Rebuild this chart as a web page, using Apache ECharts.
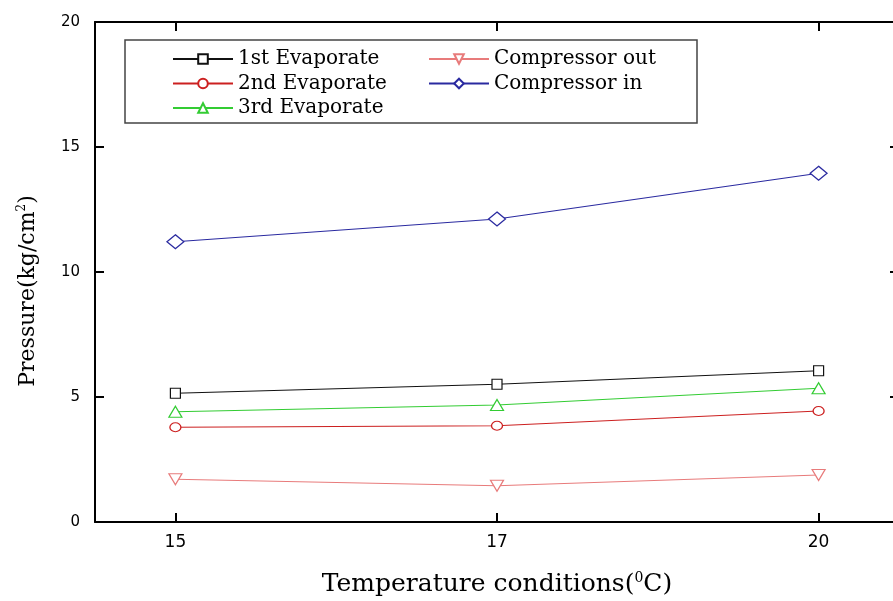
<!DOCTYPE html>
<html>
<head>
<meta charset="utf-8">
<script src="https://cdn.jsdelivr.net/npm/echarts@6/dist/echarts.min.js"></script>
<style>html,body{margin:0;padding:0;background:#fff;}#c{width:893px;height:601px;}</style>
</head>
<body>
<div id="c"></div>
<script>
var categories = ['15', '17', '20'];
var firstEvap = [5.15, 5.51, 6.05];
var secondEvap = [3.79, 3.85, 4.44];
var thirdEvap = [4.41, 4.68, 5.35];
var compOut = [1.71, 1.45, 1.88];
var compIn = [11.21, 12.12, 13.95];
var yTicks = [0, 5, 10, 15, 20];

function pts(arr) { return arr.map(function (v, i) { return [i, v]; }); }
var catIdx = categories.map(function (c, i) { return i; });

function mk(name, data, color, symbol, size, rotate) {
  return {
    name: name, type: 'line', data: pts(data), symbol: symbol, symbolSize: size,
    symbolRotate: rotate || 0, showAllSymbol: true,
    lineStyle: { color: color, width: 1.2 },
    itemStyle: { color: '#fff', borderColor: color, borderWidth: 1.2 },
    emphasis: { disabled: true }, animation: false, z: 3
  };
}

var serif = '"DejaVu Serif", "Liberation Serif", serif';
var sans = '"DejaVu Sans", sans-serif';
var axisLine = { show: true, onZero: false, lineStyle: { color: '#000', width: 2 } };
var tick = { show: true, inside: true, length: 9, lineStyle: { color: '#000', width: 2 } };
var legendText = { fontFamily: serif, fontSize: 20, color: '#000', lineHeight: 24 };

var chart = echarts.init(document.getElementById('c'), null, { renderer: 'canvas' });
chart.setOption({
  backgroundColor: '#fff',
  animation: false,
  grid: { left: 95, top: 22, right: -6, bottom: 79, containLabel: false, outerBoundsMode: 'none' },
  legend: [{
    data: ['1st Evaporate', '2nd Evaporate', '3rd Evaporate'],
    orient: 'vertical', left: 167, top: 42, itemWidth: 60, itemHeight: 12, itemGap: 0.5,
    textStyle: legendText, selectedMode: false
  }, {
    data: ['Compressor out', 'Compressor in'],
    orient: 'vertical', left: 423, top: 42, itemWidth: 60, itemHeight: 12, itemGap: 0.5,
    textStyle: legendText, selectedMode: false
  }],
  graphic: [{
    type: 'rect', shape: { x: 125, y: 40, width: 572, height: 83 },
    style: { fill: 'none', stroke: '#444', lineWidth: 1.5 }, z: 1
  }],
  xAxis: [{
    type: 'value', position: 'bottom', min: -0.25, max: 2.25,
    axisLine: axisLine, splitLine: { show: false },
    axisTick: Object.assign({ customValues: catIdx }, tick),
    axisLabel: { customValues: catIdx, margin: 12, fontFamily: sans, fontSize: 17, color: '#000',
      formatter: function (v) { return categories[Math.round(v)]; } },
    name: 'Temperature conditions({sup|0}C)', nameLocation: 'middle', nameGap: 49,
    nameTextStyle: { fontFamily: serif, fontSize: 25, color: '#000',
      rich: { sup: { fontFamily: serif, fontSize: 14, color: '#000', padding: [0, 0, 13, 0] } } }
  }, {
    type: 'value', position: 'top', min: -0.25, max: 2.25,
    axisLine: axisLine, splitLine: { show: false },
    axisTick: Object.assign({ customValues: catIdx }, tick),
    axisLabel: { show: false }
  }],
  yAxis: [{
    type: 'value', position: 'left', min: 0, max: 20, interval: 5,
    axisLine: axisLine, splitLine: { show: false }, axisTick: tick,
    axisLabel: { margin: 15, fontFamily: sans, fontSize: 15, color: '#000' },
    name: 'Pressure(kg/cm{sup|2})', nameLocation: 'middle', nameGap: 55, nameRotate: 90,
    nameTextStyle: { fontFamily: serif, fontSize: 22, color: '#000', padding: [0, 38, 0, 0],
      rich: { sup: { fontFamily: serif, fontSize: 12, color: '#000', padding: [0, 0, 12, 0] } } }
  }, {
    type: 'value', position: 'right', min: 0, max: 20, interval: 5,
    axisLine: axisLine, splitLine: { show: false }, axisTick: tick,
    axisLabel: { show: false }
  }],
  series: [
    mk('1st Evaporate', firstEvap, '#111111', 'rect', 10),
    mk('2nd Evaporate', secondEvap, '#cc2020', 'circle', [11, 9]),
    mk('3rd Evaporate', thirdEvap, '#33cc33', 'triangle', [13, 11]),
    mk('Compressor out', compOut, '#e87b7b', 'triangle', [13, 11], 180),
    mk('Compressor in', compIn, '#2a2aa0', 'diamond', [17, 14])
  ]
});
</script>
</body>
</html>
